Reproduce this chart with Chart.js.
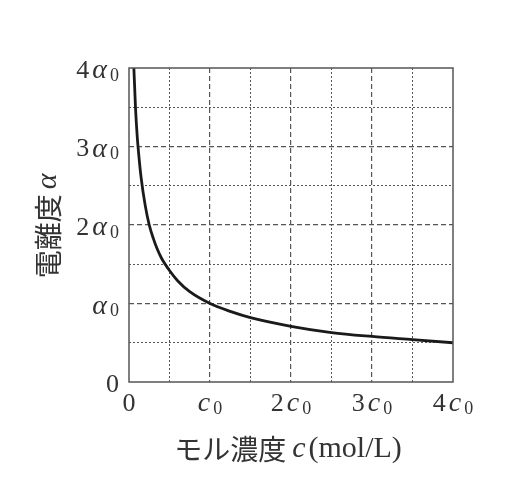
<!DOCTYPE html>
<html>
<head>
<meta charset="utf-8">
<script src="https://cdn.jsdelivr.net/npm/chart.js@4/dist/chart.umd.min.js"></script>
<style>
  html, body { margin: 0; padding: 0; background: #fff; }
</style>
</head>
<body>
<canvas id="ionChart" width="523" height="501"></canvas>
<script>
// Données (c en unités de c0, α en unités de α0)
const concentration = [0.06, 0.07, 0.08, 0.1, 0.12, 0.15, 0.2, 0.25, 0.3, 0.35, 0.4, 0.5, 0.6, 0.75, 1, 1.25, 1.5, 2, 2.5, 3, 3.5, 4];
const ionization = [4.0, 3.75, 3.5, 3.15, 2.9, 2.6, 2.25, 2.0, 1.83, 1.69, 1.58, 1.42, 1.29, 1.15, 1.0, 0.9, 0.82, 0.71, 0.63, 0.58, 0.54, 0.5];

const xTickValues = [0, 1, 2, 3, 4];
const xTickLabels = ['0', 'c0', '2c0', '3c0', '4c0'];
const yTickValues = [0, 1, 2, 3, 4];
const yTickLabels = ['0', 'α0', '2α0', '3α0', '4α0'];
const xTitle = ['モル濃度', 'c', '(mol/L)'];
const yTitle = ['電離度', 'α'];

const SERIF = '"Liberation Serif", "DejaVu Serif", serif';
const CJK = '"Noto Sans CJK JP", sans-serif';
const TEXT = '#333';
const GRID = '#555';

// découpe "2c0" -> chiffre droit, lettre italique, indice 0
function mathParts(str) {
    const m = str.match(/^(\d*)([a-zα]?)(0?)$/);
    const parts = [];
    if (m[1]) parts.push({ t: m[1], font: '26px ' + SERIF, dy: 0, gap: 3 });
    if (m[2]) parts.push({ t: m[2], font: 'italic 28px ' + SERIF, dy: 0, gap: 3 });
    if (m[3]) parts.push({ t: m[3], font: '18px ' + SERIF, dy: 5, gap: 0 });
    return parts;
}

function drawParts(ctx, parts, x, y, align) {
    let total = 0;
    parts.forEach((p, i) => {
        ctx.font = p.font;
        p.w = ctx.measureText(p.t).width;
        total += p.w + (i < parts.length - 1 ? p.gap : 0);
    });
    let cx = align === 'right' ? x - total : (align === 'center' ? x - total / 2 : x);
    ctx.textAlign = 'left';
    parts.forEach(p => {
        ctx.font = p.font;
        ctx.fillText(p.t, cx, y + p.dy);
        cx += p.w + p.gap;
    });
}

const labelPlugin = {
    id: 'labels',
    afterDraw(chart) {
        const ctx = chart.ctx;
        const area = chart.chartArea;
        const xs = chart.scales.x;
        const ys = chart.scales.y;
        ctx.save();

        // cadre
        ctx.strokeStyle = '#555';
        ctx.lineWidth = 1.5;
        ctx.setLineDash([]);
        ctx.strokeRect(area.left, area.top, area.right - area.left, area.bottom - area.top);

        ctx.fillStyle = TEXT;
        ctx.textBaseline = 'middle';

        yTickValues.forEach((v, i) => {
            drawParts(ctx, mathParts(yTickLabels[i]), area.left - 10, ys.getPixelForValue(v) + 3, 'right');
        });
        xTickValues.forEach((v, i) => {
            drawParts(ctx, mathParts(xTickLabels[i]), xs.getPixelForValue(v), area.bottom + 22, 'center');
        });

        // titre axe x
        const xParts = [
            { t: xTitle[0], font: '28px ' + CJK, dy: 0, gap: 6 },
            { t: xTitle[1], font: 'italic 30px ' + SERIF, dy: 0, gap: 3 },
            { t: xTitle[2], font: '30px ' + SERIF, dy: 0, gap: 0 }
        ];
        drawParts(ctx, xParts, (area.left + area.right) / 2 - 3, 449, 'center');

        // titre axe y (vertical)
        ctx.translate(48, 226);
        ctx.rotate(-Math.PI / 2);
        const yParts = [
            { t: yTitle[0], font: '28px ' + CJK, dy: 0, gap: 5 },
            { t: yTitle[1], font: 'italic 30px ' + SERIF, dy: 0, gap: 0 }
        ];
        drawParts(ctx, yParts, 0, 0, 'center');
        ctx.restore();
    }
};

function minorColor(c) {
    return (c.tick && c.tick.value % 1 !== 0) ? GRID : 'rgba(0,0,0,0)';
}
function majorColor(c) {
    return (c.tick && c.tick.value > 0 && c.tick.value < 4) ? GRID : 'rgba(0,0,0,0)';
}

const ctx = document.getElementById('ionChart').getContext('2d');
const chart = new Chart(ctx, {
    type: 'line',
    data: {
        datasets: [{
            data: concentration.map((c, i) => ({ x: c, y: ionization[i] })),
            borderColor: '#1a1a1a',
            borderWidth: 2.8,
            pointRadius: 0,
            cubicInterpolationMode: 'monotone',
            fill: false,
            xAxisID: 'x',
            yAxisID: 'y'
        }]
    },
    options: {
        responsive: false,
        animation: false,
        layout: { padding: { left: 0, top: 68, right: 70, bottom: 0 } },
        plugins: { legend: { display: false }, tooltip: { enabled: false } },
        scales: {
            x: {
                type: 'linear', position: 'bottom', min: 0, max: 4,
                ticks: { display: false, stepSize: 0.5 },
                grid: { color: minorColor, lineWidth: 1, drawTicks: false },
                border: { display: false, dash: [2, 2] },
                afterFit: s => { s.height = 119; }
            },
            xMajor: {
                type: 'linear', position: 'top', min: 0, max: 4,
                ticks: { display: false, stepSize: 1 },
                grid: { color: majorColor, lineWidth: 1.2, drawTicks: false },
                border: { display: false, dash: [5, 3] },
                afterFit: s => { s.height = 0; }
            },
            y: {
                type: 'linear', position: 'left', min: 0, max: 4,
                ticks: { display: false, stepSize: 0.5 },
                grid: { color: minorColor, lineWidth: 1, drawTicks: false },
                border: { display: false, dash: [2, 2] },
                afterFit: s => { s.width = 129; }
            },
            yMajor: {
                type: 'linear', position: 'right', min: 0, max: 4,
                ticks: { display: false, stepSize: 1 },
                grid: { color: majorColor, lineWidth: 1.2, drawTicks: false },
                border: { display: false, dash: [5, 3] },
                afterFit: s => { s.width = 0; }
            }
        }
    },
    plugins: [labelPlugin]
});
</script>
</body>
</html>
